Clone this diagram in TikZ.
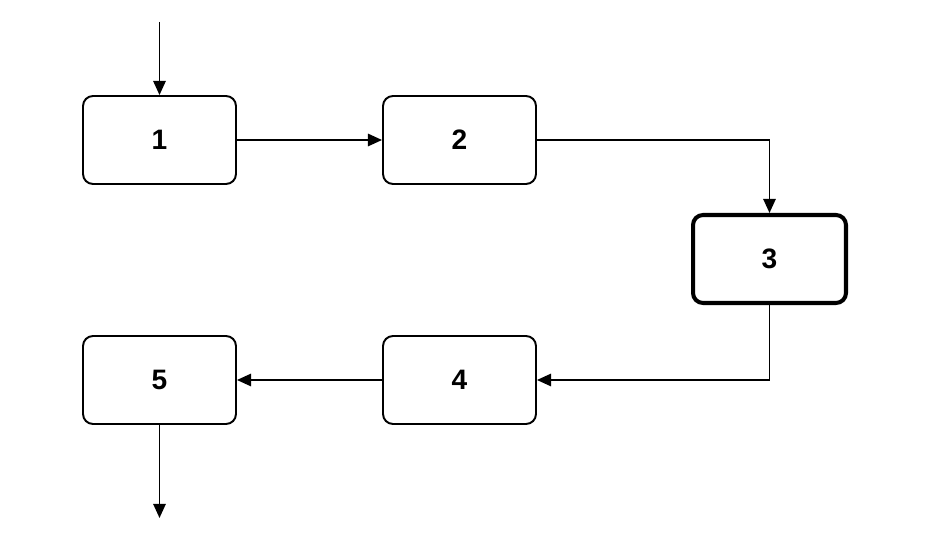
\documentclass[tikz,border=0pt]{standalone}
\usepackage{fontspec}
\setmainfont{Liberation Sans}
\usetikzlibrary{arrows.meta, positioning}
\begin{document}
\begin{tikzpicture}[
    x=0.02cm, y=-0.02cm,
    box/.style={draw, rounded corners=0.2cm, line width=1.1pt, minimum width=3.06cm, minimum height=1.76cm, font=\fontsize{16}{18}\selectfont\bfseries},
    boxthick/.style={box, line width=2.3pt},
    flow/.style={-{Triangle[length=8pt, width=7pt]}, line width=1.1pt}
]
\useasboundingbox (0,0) rectangle (940,540);

% boxes
\node[box] (b1) at (159.5,140) {1};
\node[box] (b2) at (459.5,140) {2};
\node[boxthick] (b3) at (769.5,259) {3};
\node[box] (b4) at (459.5,380) {4};
\node[box] (b5) at (159.5,380) {5};

% free ends
\coordinate (in) at (159.5,22);
\coordinate (out) at (159.5,518);

% connectors
\draw[flow] (in) -- (b1);
\draw[flow] (b1) -- (b2);
\draw[flow] (b2) -| (b3);
\draw[flow] (b3) |- (b4);
\draw[flow] (b4) -- (b5);
\draw[flow] (b5) -- (out);
\end{tikzpicture}
\end{document}
